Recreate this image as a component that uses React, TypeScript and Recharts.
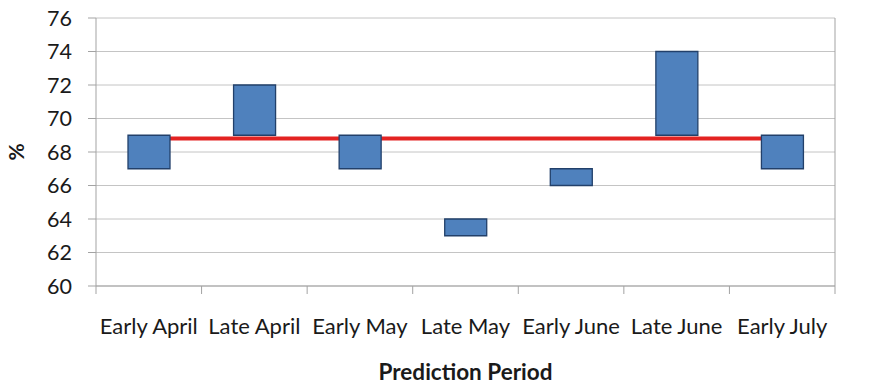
import { ComposedChart, Bar, Line, XAxis, YAxis, CartesianGrid, Label } from 'recharts';

const categories = [
  'Early April',
  'Late April',
  'Early May',
  'Late May',
  'Early June',
  'Late June',
  'Early July',
];

// predicted range per period (low / high, %)
const lowValues = [67, 69, 67, 63, 66, 69, 67];
const highValues = [69, 72, 69, 64, 67, 74, 69];

// observed mean level drawn across the periods
const meanValues = [68.8, 68.8, 68.8, 68.8, 68.8, 68.8, 68.8];

const yTicks = [60, 62, 64, 66, 68, 70, 72, 74, 76];

const data = categories.map((name, i) => ({
  name,
  range: [lowValues[i], highValues[i]],
  mean: meanValues[i],
}));

const WIDTH = 887;
const HEIGHT = 388;
const LEFT_AXIS_W = 96;
const RIGHT_AXIS_W = 52;
const PLOT_W = WIDTH - LEFT_AXIS_W - RIGHT_AXIS_W;

const FONT = 'Lato, "Open Sans", sans-serif';
const AXIS_GRAY = '#a3a3a3';
const TEXT = '#1a1a1a';

const CategoryTick = (props: any) => {
  const { x, y, payload, index } = props;
  const half = payload?.offset ?? PLOT_W / categories.length / 2;
  return (
    <g>
      <line x1={x - half} x2={x - half} y1={y} y2={y + 8} stroke={AXIS_GRAY} />
      {index === categories.length - 1 && (
        <line x1={x + half} x2={x + half} y1={y} y2={y + 8} stroke={AXIS_GRAY} />
      )}
      <text
        x={x}
        y={y + 48}
        textAnchor="middle"
        fill={TEXT}
        style={{ fontFamily: FONT, fontSize: 22 }}
      >
        {payload.value}
      </text>
    </g>
  );
};

const App = () => (
  <div style={{ position: 'absolute', left: 0, top: 0, background: '#fff' }}>
    <ComposedChart
      width={WIDTH}
      height={HEIGHT}
      data={data}
      margin={{ top: 18, right: 0, bottom: 0, left: 0 }}
    >
      <CartesianGrid vertical={false} stroke="#c4c4c4" yAxisId="left" />
      <XAxis
        dataKey="name"
        height={102}
        interval={0}
        tickSize={0}
        tickMargin={0}
        tickLine={false}
        axisLine={{ stroke: AXIS_GRAY }}
        tick={<CategoryTick />}
      >
        <Label
          content={({ viewBox }: any) => (
            <text
              x={viewBox.x + viewBox.width / 2}
              y={380}
              textAnchor="middle"
              fill={TEXT}
              style={{ fontFamily: FONT, fontSize: 22.5, fontWeight: 700 }}
            >
              Prediction Period
            </text>
          )}
        />
      </XAxis>
      <YAxis
        yAxisId="left"
        orientation="left"
        width={LEFT_AXIS_W}
        domain={[60, 76]}
        ticks={yTicks}
        interval={0}
        tickSize={8}
        tickMargin={16}
        axisLine={{ stroke: AXIS_GRAY }}
        tickLine={{ stroke: AXIS_GRAY }}
        tick={{ fill: TEXT, fontFamily: FONT, fontSize: 21.5 }}
      >
        <Label
          content={() => (
            <text
              x={0}
              y={0}
              transform="translate(24, 152) rotate(-90)"
              textAnchor="middle"
              fill={TEXT}
              style={{ fontFamily: FONT, fontSize: 21, fontWeight: 700 }}
            >
              %
            </text>
          )}
        />
      </YAxis>
      <YAxis
        yAxisId="right"
        orientation="right"
        width={RIGHT_AXIS_W}
        domain={[60, 76]}
        ticks={yTicks}
        interval={0}
        tickSize={8}
        tickMargin={15}
        axisLine={{ stroke: AXIS_GRAY }}
        tickLine={{ stroke: AXIS_GRAY }}
        tick={{ fill: TEXT, fontFamily: FONT, fontSize: 21.5, textAnchor: 'start' }}
      />
      <Line
        yAxisId="left"
        dataKey="mean"
        stroke="#e32322"
        strokeWidth={4}
        dot={false}
        activeDot={false}
        isAnimationActive={false}
        zIndex={250}
      />
      <Bar
        yAxisId="left"
        dataKey="range"
        barSize={42}
        fill="#4f81bd"
        stroke="#22406a"
        strokeWidth={1.3}
        isAnimationActive={false}
      />
    </ComposedChart>
  </div>
);

export default App;
